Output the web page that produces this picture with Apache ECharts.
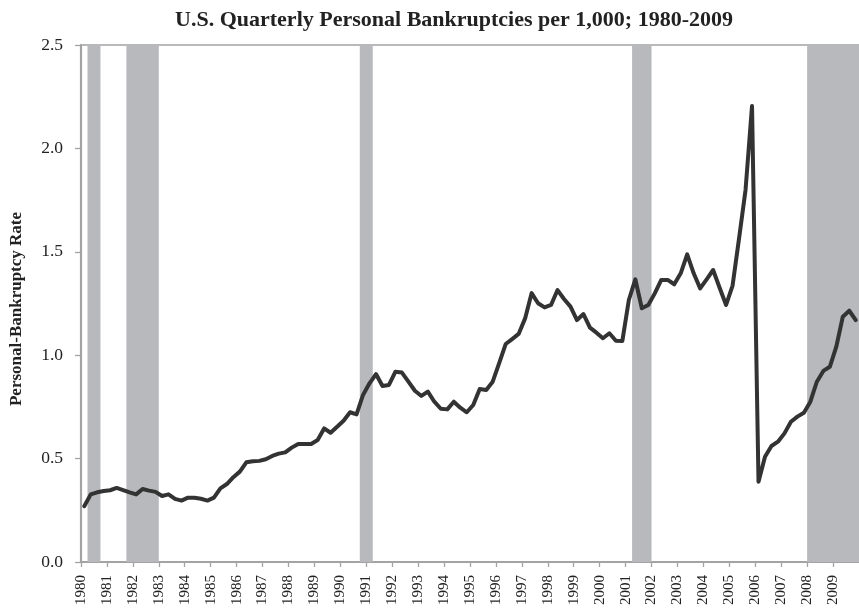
<!DOCTYPE html>
<html>
<head>
<meta charset="utf-8">
<script src="https://cdn.jsdelivr.net/npm/echarts@6/dist/echarts.min.js"></script>
<style>
html,body{margin:0;padding:0;background:#fff;}
#chart{width:859px;height:611px;}
</style>
</head>
<body>
<div id="chart"></div>
<script>
// Quarterly personal bankruptcies per 1,000, 1980Q1 .. 2009Q4
var startYear = 1980;
var rates = [
  0.27, 0.327, 0.337, 0.343,   // 1980
  0.347, 0.358, 0.348, 0.337,  // 1981
  0.327, 0.353, 0.345, 0.339,  // 1982
  0.319, 0.327, 0.305, 0.297,  // 1983
  0.311, 0.311, 0.306, 0.297,  // 1984
  0.311, 0.356, 0.377, 0.41,   // 1985
  0.437, 0.482, 0.487, 0.489,  // 1986
  0.497, 0.513, 0.524, 0.53,   // 1987
  0.553, 0.571, 0.571, 0.571,  // 1988
  0.59, 0.646, 0.625, 0.654,   // 1989
  0.683, 0.724, 0.714, 0.808,  // 1990
  0.864, 0.909, 0.851, 0.856,  // 1991
  0.92, 0.916, 0.872, 0.828,   // 1992
  0.803, 0.824, 0.775, 0.741,  // 1993
  0.738, 0.775, 0.746, 0.724,  // 1994
  0.759, 0.837, 0.832, 0.872,  // 1995
  0.962, 1.054, 1.078, 1.103,  // 1996
  1.178, 1.30, 1.251, 1.231,   // 1997
  1.243, 1.315, 1.272, 1.235,  // 1998
  1.17, 1.199, 1.133, 1.109,   // 1999
  1.082, 1.106, 1.07, 1.069,   // 2000
  1.267, 1.367, 1.227, 1.243,  // 2001
  1.299, 1.364, 1.364, 1.343,  // 2002
  1.396, 1.488, 1.396, 1.323,  // 2003
  1.367, 1.412, 1.326, 1.243,  // 2004
  1.337, 1.565, 1.799, 2.205,  // 2005
  0.388, 0.509, 0.561, 0.582,  // 2006
  0.622, 0.678, 0.703, 0.722,  // 2007
  0.775, 0.872, 0.924, 0.944,  // 2008
  1.041, 1.186, 1.215, 1.17    // 2009
];
// Shaded recession spans, as [first quarter index, last quarter index]
var recessionQuarters = [[1, 2], [7, 11], [43, 44], [85, 87], [112, 119]];
var yearTicks = [];
for (var y = 1980; y <= 2009; y++) yearTicks.push(y);
var yTicks = [0, 0.5, 1.0, 1.5, 2.0, 2.5];

var lineData = rates.map(function (v, i) { return [startYear + (i + 0.5) / 4, v]; });
var areas = recessionQuarters.map(function (r) {
  return [{ xAxis: startYear + r[0] / 4 }, { xAxis: startYear + (r[1] + 1) / 4 }];
});

var serif = '"Liberation Serif", "Times New Roman", serif';
var chart = echarts.init(document.getElementById('chart'), null, { renderer: 'canvas' });
chart.setOption({
  backgroundColor: '#fff',
  animation: false,
  title: {
    text: 'U.S. Quarterly Personal Bankruptcies per 1,000; 1980-2009',
    left: 449, textAlign: 'center', top: 4,
    textStyle: { fontFamily: serif, fontWeight: 'bold', fontSize: 22, color: '#222' }
  },
  grid: {
    left: 78, top: 45, bottom: 49, width: 782.5,
    show: true, borderColor: '#a3a3a3', borderWidth: 1.3, containLabel: false
  },
  xAxis: {
    type: 'value', min: 1980, max: 2010, interval: 1,
    splitLine: { show: false },
    axisLine: { show: true, lineStyle: { color: '#a3a3a3', width: 2 } },
    axisTick: { show: true, inside: false, length: 5, lineStyle: { color: '#a3a3a3', width: 1.3 } },
    axisLabel: {
      rotate: 90, fontFamily: serif, fontSize: 15, color: '#222', margin: 13,
      showMaxLabel: false,
      formatter: function (v) { return v >= 2010 ? '' : String(v); }
    }
  },
  yAxis: {
    type: 'value', min: 0, max: 2.5, interval: 0.5,
    name: 'Personal-Bankruptcy Rate', nameLocation: 'middle', nameGap: 56, nameRotate: 90,
    nameTextStyle: { fontFamily: serif, fontWeight: 'bold', fontSize: 17, color: '#222', padding: [0, 11, 0, 0] },
    splitLine: { show: false },
    axisLine: { show: true, lineStyle: { color: '#a3a3a3', width: 2.2 } },
    axisTick: { show: true, length: 6, lineStyle: { color: '#a3a3a3', width: 1.3 } },
    axisLabel: {
      fontFamily: serif, fontSize: 17.5, color: '#222', margin: 18,
      formatter: function (v) { return v.toFixed(1); }
    }
  },
  series: [
    {
      type: 'line', data: [], z: 1, silent: true,
      markArea: { silent: true, itemStyle: { color: '#b8b9bd' }, data: areas }
    },
    {
      type: 'line', data: lineData, z: 5, showSymbol: false, smooth: false,
      lineStyle: { color: '#333333', width: 4, cap: 'round', join: 'round' }
    }
  ]
});
</script>
</body>
</html>
